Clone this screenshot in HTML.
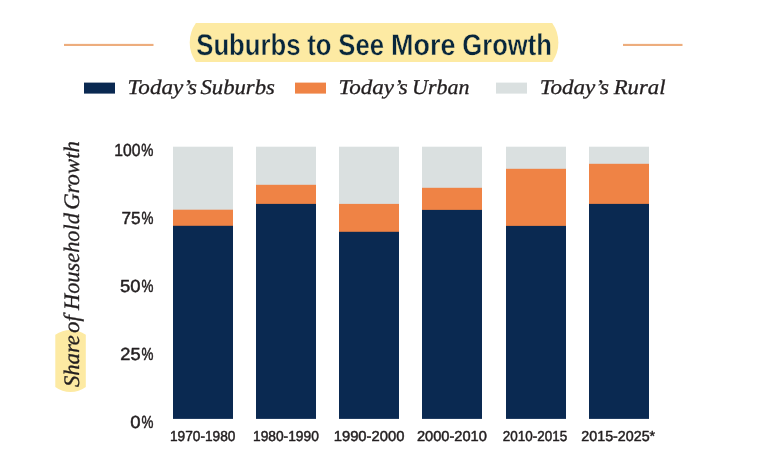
<!DOCTYPE html>
<html lang="en">
<head>
<meta charset="utf-8">
<title>Suburbs to See More Growth</title>
<style>
  html, body { margin: 0; padding: 0; background: #ffffff; }
  body { width: 762px; height: 460px; overflow: hidden; }
  svg { display: block; text-rendering: geometricPrecision; }
  .title { font-family:'Liberation Sans',sans-serif; font-weight:bold; font-size:29.9px; fill: #08263c; stroke: #fdeaa3; stroke-width: 0.4px; stroke-linejoin: round; }
  .leg { font-family:'Liberation Serif',serif; font-style:italic; font-size:21px; fill: #231f20; stroke: #231f20; stroke-width: 0.3px; stroke-linejoin: round; }
  .ylab { font-family:'Liberation Serif',serif; font-style:italic; font-size:22.2px; fill: #231f20; stroke: #231f20; stroke-width: 0.3px; stroke-linejoin: round; }
  .ytick { font-family:'Liberation Sans',sans-serif; font-size:17.5px; fill: #231f20; stroke: #231f20; stroke-width: 0.5px; stroke-linejoin: round; }
  .xtick { font-family:'Liberation Sans',sans-serif; font-size:14.5px; fill: #231f20; stroke: #231f20; stroke-width: 0.5px; stroke-linejoin: round; }
</style>
</head>
<body>
<svg width="762" height="460" viewBox="0 0 762 460" role="img" aria-label="Suburbs to See More Growth: share of household growth by decade">
  <rect x="0" y="0" width="762" height="460" fill="#ffffff"/>

  <!-- decorative rules either side of the title -->
  <rect x="64" y="43.88" width="89.5" height="2.12" fill="#edad7d"/>
  <rect x="623" y="43.88" width="59.5" height="2.12" fill="#edad7d"/>

  <!-- title with highlight -->
  <path d="M195.9,23 L552.2,23 A33.8,33.8 0 0 1 552.2,62 L195.9,62 A33.8,33.8 0 0 1 195.9,23 Z" fill="#fdeaa3"/>
  <text class="title" y="54.85"><tspan x="196.28" textLength="104.29" lengthAdjust="spacingAndGlyphs">Suburbs</tspan> <tspan x="307.26" textLength="24.19" lengthAdjust="spacingAndGlyphs">to</tspan> <tspan x="338.33" textLength="45.69" lengthAdjust="spacingAndGlyphs">See</tspan> <tspan x="391.04" textLength="64.38" lengthAdjust="spacingAndGlyphs">More</tspan> <tspan x="462.32" textLength="89.58" lengthAdjust="spacingAndGlyphs">Growth</tspan></text>

  <!-- legend -->
  <rect x="84" y="82.6" width="31" height="11" fill="#0a2951"/>
  <text class="leg" y="93.55"><tspan x="127.63" textLength="69.26" lengthAdjust="spacingAndGlyphs">Today’s</tspan> <tspan x="200.46" textLength="74.46" lengthAdjust="spacingAndGlyphs">Suburbs</tspan></text>
  <rect x="295" y="82.6" width="31" height="11" fill="#ef8345"/>
  <text class="leg" y="93.55"><tspan x="338.43" textLength="69.26" lengthAdjust="spacingAndGlyphs">Today’s</tspan> <tspan x="412.07" textLength="57.38" lengthAdjust="spacingAndGlyphs">Urban</tspan></text>
  <rect x="496" y="82.6" width="31" height="11" fill="#dae0e0"/>
  <text class="leg" y="93.55"><tspan x="539.73" textLength="69.26" lengthAdjust="spacingAndGlyphs">Today’s</tspan> <tspan x="613.67" textLength="51.80" lengthAdjust="spacingAndGlyphs">Rural</tspan></text>

  <!-- y axis title ("Share" highlighted) -->
  <path d="M55.3,334.8 A26.4,26.4 0 0 1 85.8,334.8 L85.8,387.1 A25.8,25.8 0 0 1 55.3,387.1 Z" fill="#fdeaa3"/>
  <text class="ylab" transform="translate(79.2,0) rotate(-90)" y="0"><tspan x="-387.13" textLength="52.06" lengthAdjust="spacingAndGlyphs">Share</tspan> <tspan x="-333.02" textLength="17.80" lengthAdjust="spacingAndGlyphs">of</tspan> <tspan x="-310.02" textLength="96.99" lengthAdjust="spacingAndGlyphs">Household</tspan> <tspan x="-209.85" textLength="68.77" lengthAdjust="spacingAndGlyphs">Growth</tspan></text>

  <!-- y axis tick labels -->
  <text class="ytick" y="155.9"><tspan x="114.19" textLength="26.22" lengthAdjust="spacingAndGlyphs">100</tspan><tspan x="141.31" textLength="12.13" lengthAdjust="spacingAndGlyphs">%</tspan></text>
  <text class="ytick" y="223.9"><tspan x="121.38" textLength="19.18" lengthAdjust="spacingAndGlyphs">75</tspan><tspan x="141.51" textLength="11.92" lengthAdjust="spacingAndGlyphs">%</tspan></text>
  <text class="ytick" y="291.9"><tspan x="120.07" textLength="20.52" lengthAdjust="spacingAndGlyphs">50</tspan><tspan x="141.51" textLength="11.92" lengthAdjust="spacingAndGlyphs">%</tspan></text>
  <text class="ytick" y="359.9"><tspan x="120.35" textLength="20.24" lengthAdjust="spacingAndGlyphs">25</tspan><tspan x="141.51" textLength="11.92" lengthAdjust="spacingAndGlyphs">%</tspan></text>
  <text class="ytick" y="427.9"><tspan x="130.30" textLength="10.31" lengthAdjust="spacingAndGlyphs">0</tspan><tspan x="141.51" textLength="11.92" lengthAdjust="spacingAndGlyphs">%</tspan></text>

  <!-- stacked bars: rural (grey), urban (orange), suburbs (navy) -->
  <g><rect x="173" y="146.7" width="60" height="64.0" fill="#dae0e0"/><rect x="173" y="209.7" width="60" height="17.1" fill="#ef8345"/><rect x="173" y="225.8" width="60" height="193.1" fill="#0a2951"/></g>
  <g><rect x="256" y="146.7" width="60" height="39.1" fill="#dae0e0"/><rect x="256" y="184.8" width="60" height="20.1" fill="#ef8345"/><rect x="256" y="203.9" width="60" height="215.0" fill="#0a2951"/></g>
  <g><rect x="339" y="146.7" width="60" height="58.2" fill="#dae0e0"/><rect x="339" y="203.9" width="60" height="28.9" fill="#ef8345"/><rect x="339" y="231.8" width="60" height="187.1" fill="#0a2951"/></g>
  <g><rect x="422" y="146.7" width="60" height="42.1" fill="#dae0e0"/><rect x="422" y="187.8" width="60" height="23.1" fill="#ef8345"/><rect x="422" y="209.9" width="60" height="209.0" fill="#0a2951"/></g>
  <g><rect x="506" y="146.7" width="60" height="23.1" fill="#dae0e0"/><rect x="506" y="168.8" width="60" height="58.1" fill="#ef8345"/><rect x="506" y="225.9" width="60" height="193.0" fill="#0a2951"/></g>
  <g><rect x="589" y="146.7" width="60" height="18.1" fill="#dae0e0"/><rect x="589" y="163.8" width="60" height="41.1" fill="#ef8345"/><rect x="589" y="203.9" width="60" height="215.0" fill="#0a2951"/></g>

  <!-- x axis tick labels -->
  <text class="xtick" y="440.6"><tspan x="169.97" textLength="65.45" lengthAdjust="spacingAndGlyphs">1970-1980</tspan></text>
  <text class="xtick" y="440.6"><tspan x="252.97" textLength="65.86" lengthAdjust="spacingAndGlyphs">1980-1990</tspan></text>
  <text class="xtick" y="440.6"><tspan x="333.71" textLength="70.64" lengthAdjust="spacingAndGlyphs">1990-2000</tspan></text>
  <text class="xtick" y="440.6"><tspan x="416.90" textLength="69.95" lengthAdjust="spacingAndGlyphs">2000-2010</tspan></text>
  <text class="xtick" y="440.6"><tspan x="502.84" textLength="64.38" lengthAdjust="spacingAndGlyphs">2010-2015</tspan></text>
  <text class="xtick" y="440.6"><tspan x="581.31" textLength="73.89" lengthAdjust="spacingAndGlyphs">2015-2025*</tspan></text>
</svg>
</body>
</html>
